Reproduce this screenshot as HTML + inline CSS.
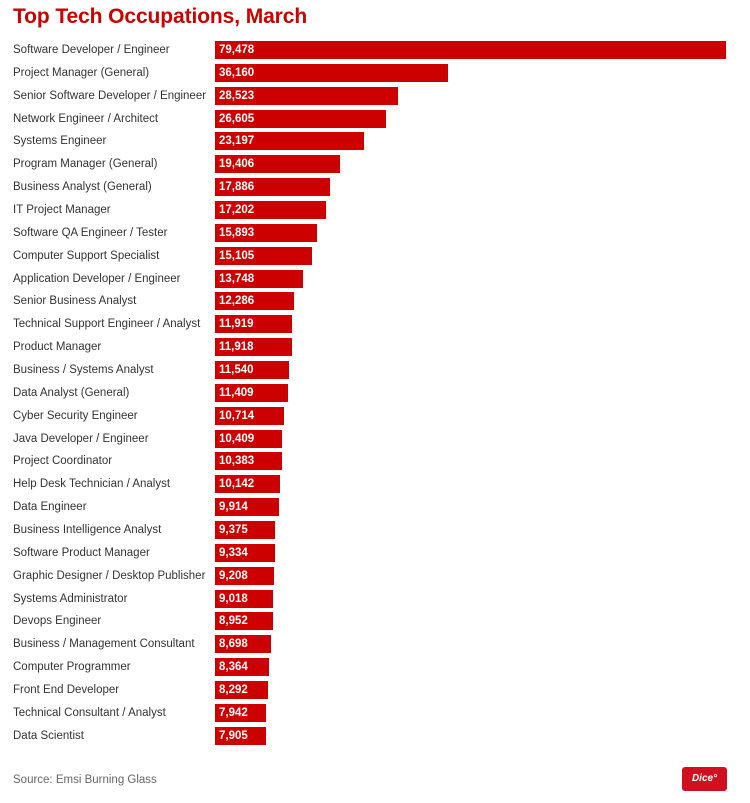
<!DOCTYPE html>
<html><head><meta charset="utf-8"><style>
body{margin:0;width:750px;height:803px;background:#fff;font-family:"Liberation Sans",Arial,sans-serif;position:relative;overflow:hidden}
h1{position:absolute;left:13px;top:5px;margin:0;font-size:21px;font-weight:bold;color:#cc0000;letter-spacing:-0.1px}
#rows{position:absolute;left:0;top:41px;width:750px}
.r{height:22.87px;position:relative}
.l{position:absolute;left:13px;top:2px;font-size:11.5px;color:#333;line-height:14px}
.b{position:absolute;left:215px;top:0;height:18px;background:#cc0000;color:#fff;font-weight:bold;font-size:11.5px;line-height:18px;padding-left:4px;box-sizing:border-box;white-space:nowrap}
.src{position:absolute;left:13px;top:774px;font-size:11.5px;color:#666}
.logo{position:absolute;left:682px;top:767px;width:45px;height:24px;background:#d01020;border-radius:3px;color:#fff;font-weight:bold;font-style:italic;font-size:10px;text-align:center;line-height:24px}
</style></head><body>
<h1>Top Tech Occupations, March</h1>
<div id="rows">
<div class="r"><span class="l">Software Developer / Engineer</span><div class="b" style="width:511px">79,478</div></div>
<div class="r"><span class="l">Project Manager (General)</span><div class="b" style="width:232.5px">36,160</div></div>
<div class="r"><span class="l">Senior Software Developer / Engineer</span><div class="b" style="width:183.4px">28,523</div></div>
<div class="r"><span class="l">Network Engineer / Architect</span><div class="b" style="width:171px">26,605</div></div>
<div class="r"><span class="l">Systems Engineer</span><div class="b" style="width:149.1px">23,197</div></div>
<div class="r"><span class="l">Program Manager (General)</span><div class="b" style="width:124.8px">19,406</div></div>
<div class="r"><span class="l">Business Analyst (General)</span><div class="b" style="width:115px">17,886</div></div>
<div class="r"><span class="l">IT Project Manager</span><div class="b" style="width:110.6px">17,202</div></div>
<div class="r"><span class="l">Software QA Engineer / Tester</span><div class="b" style="width:102.2px">15,893</div></div>
<div class="r"><span class="l">Computer Support Specialist</span><div class="b" style="width:97.1px">15,105</div></div>
<div class="r"><span class="l">Application Developer / Engineer</span><div class="b" style="width:88.4px">13,748</div></div>
<div class="r"><span class="l">Senior Business Analyst</span><div class="b" style="width:79px">12,286</div></div>
<div class="r"><span class="l">Technical Support Engineer / Analyst</span><div class="b" style="width:76.6px">11,919</div></div>
<div class="r"><span class="l">Product Manager</span><div class="b" style="width:76.6px">11,918</div></div>
<div class="r"><span class="l">Business / Systems Analyst</span><div class="b" style="width:74.2px">11,540</div></div>
<div class="r"><span class="l">Data Analyst (General)</span><div class="b" style="width:73.3px">11,409</div></div>
<div class="r"><span class="l">Cyber Security Engineer</span><div class="b" style="width:68.9px">10,714</div></div>
<div class="r"><span class="l">Java Developer / Engineer</span><div class="b" style="width:66.9px">10,409</div></div>
<div class="r"><span class="l">Project Coordinator</span><div class="b" style="width:66.8px">10,383</div></div>
<div class="r"><span class="l">Help Desk Technician / Analyst</span><div class="b" style="width:65.2px">10,142</div></div>
<div class="r"><span class="l">Data Engineer</span><div class="b" style="width:63.7px">9,914</div></div>
<div class="r"><span class="l">Business Intelligence Analyst</span><div class="b" style="width:60.3px">9,375</div></div>
<div class="r"><span class="l">Software Product Manager</span><div class="b" style="width:60px">9,334</div></div>
<div class="r"><span class="l">Graphic Designer / Desktop Publisher</span><div class="b" style="width:59.2px">9,208</div></div>
<div class="r"><span class="l">Systems Administrator</span><div class="b" style="width:58px">9,018</div></div>
<div class="r"><span class="l">Devops Engineer</span><div class="b" style="width:57.6px">8,952</div></div>
<div class="r"><span class="l">Business / Management Consultant</span><div class="b" style="width:55.9px">8,698</div></div>
<div class="r"><span class="l">Computer Programmer</span><div class="b" style="width:53.8px">8,364</div></div>
<div class="r"><span class="l">Front End Developer</span><div class="b" style="width:53.3px">8,292</div></div>
<div class="r"><span class="l">Technical Consultant / Analyst</span><div class="b" style="width:51.1px">7,942</div></div>
<div class="r"><span class="l">Data Scientist</span><div class="b" style="width:50.8px">7,905</div></div>
</div>
<div class="src">Source: Emsi Burning Glass</div>
<div class="logo">Dice°</div>
</body></html>
